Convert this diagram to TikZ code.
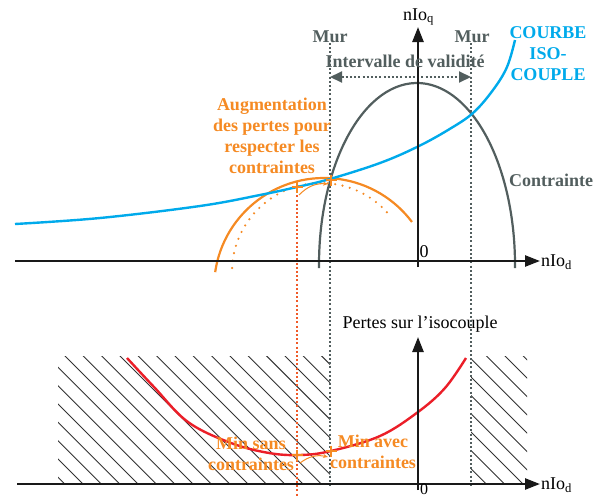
\documentclass[tikz,border=0pt]{standalone}
\usepackage{fontspec}
\setmainfont{Liberation Serif}
\usetikzlibrary{arrows.meta}
\definecolor{cblue}{RGB}{0,170,235}
\definecolor{cgray}{RGB}{82,94,94}
\definecolor{corange}{RGB}{245,138,35}
\definecolor{cred}{RGB}{235,30,40}
\definecolor{cdotred}{RGB}{240,90,40}
\tikzset{
  axis/.style={line width=2.4pt, black!90, -{Triangle[length=15pt,width=11pt]}},
  wall/.style={cgray, line width=2pt, dash pattern=on 2pt off 2.2pt},
  lbl/.style={font=\fontsize{18}{21}\selectfont\bfseries, align=center, inner sep=0pt},
  rlbl/.style={font=\fontsize{18}{21}\selectfont, inner sep=0pt},
  plusmark/.style={corange, line width=2.8pt},
  hatchline/.style={line width=0.9pt, black!80},
  smallarrow/.style={corange, line width=1pt, -{Stealth[length=5pt,width=4pt]}},
}
\begin{document}
\begin{tikzpicture}[x=1pt,y=-1pt]
\useasboundingbox (0,0) rectangle (600,498);
% hatching
\begin{scope}
  \clip (58,356) rectangle (330,484) (471,356) rectangle (527,484);
  \foreach \k in {-8,...,26} {
    \draw[hatchline] ({-291+18.33*\k+340},340) -- ({-291+18.33*\k+500},500);
  }
\end{scope}
% coordinates
\coordinate (murAt) at (330,43); \coordinate (murAb) at (330,486);
\coordinate (murBt) at (471,43); \coordinate (murBb) at (471,486);
\coordinate (redt) at (297,187); \coordinate (redb) at (297,498);
\coordinate (ia) at (330,77); \coordinate (ib) at (471,77);
\coordinate (hx1s) at (15,261); \coordinate (hx1e) at (540,261);
\coordinate (vy1s) at (418,267); \coordinate (vy1e) at (418,27);
\coordinate (hx2s) at (17,484); \coordinate (hx2e) at (540,484);
\coordinate (vy2s) at (418,490); \coordinate (vy2e) at (418,337);
\coordinate (p1) at (297,187); \coordinate (p2) at (331,180);
\coordinate (q1) at (297,455); \coordinate (q2) at (331,451);
\coordinate (a1s) at (299,195); \coordinate (a1e) at (328,184);
\coordinate (a2s) at (300,463); \coordinate (a2e) at (328,457);
% walls
\draw[wall] (murAt) -- (murAb);
\draw[wall] (murBt) -- (murBb);
\draw[cdotred, line width=2pt, dash pattern=on 2pt off 2.2pt] (redt) -- (redb);
\draw[wall, {Triangle[length=12pt,width=11pt]}-{Triangle[length=12pt,width=11pt]}] (ia) -- (ib);
% curves
\draw[cgray, line width=2.2pt] (417,265) ++(179:98 and 182) arc[start angle=179, end angle=361, x radius=98, y radius=182];
\draw[corange, line width=2.2pt] (324,288) ++(188.3:110) arc[start angle=188.3, end angle=323.1, radius=110];
\draw[corange, line width=2.4pt, dash pattern=on 0pt off 7.5pt, line cap=round] (321,272) ++(182.6:89) arc[start angle=182.6, end angle=321.4, radius=89];
\draw[cblue, line width=2.4pt] plot[smooth, tension=0.6] coordinates {(15,224) (100,218) (200,206) (260,195) (297,187) (330,179) (380,163) (417,147) (448,130) (473,113) (493,90) (507,67) (515,40)};
\draw[cred, line width=2.4pt] plot[smooth, tension=0.6] coordinates {(127,358) (154,387) (188,422) (231,443) (269,453) (300,455) (331,451) (380,436) (418,412) (445,388) (466,358)};
% axes
\draw[axis] (hx1s) -- (hx1e);
\draw[axis] (vy1s) -- (vy1e);
\draw[axis] (hx2s) -- (hx2e);
\draw[axis] (vy2s) -- (vy2e);
% markers
\foreach \p in {p1,p2,q1,q2} {
  \draw[plusmark] (\p) ++(-5.5,0) -- ++(11,0);
  \draw[plusmark] (\p) ++(0,-5.5) -- ++(0,11);
}
\draw[smallarrow] (a1s) to[bend left=25] (a1e);
\draw[smallarrow] (a2s) to[bend left=25] (a2e);
% labels
\node[lbl, text=cgray] (mur1) at (330,37) {Mur};
\node[lbl, text=cgray] (mur2) at (472,37) {Mur};
\node[lbl, text=cgray] (interv) at (405,61) {Intervalle de validité};
\node[lbl, text=cgray] (contr) at (551,180) {Contrainte};
\node[lbl, text=cblue] (iso) at (548,54) {COURBE\\ISO-\\COUPLE};
\node[lbl, text=corange] (aug) at (272,136) {Augmentation\\des pertes pour\\respecter les\\contraintes};
\node[lbl, text=corange] (minsans) at (251,454) {Min sans\\contraintes};
\node[lbl, text=corange] (minavec) at (373,452) {Min avec\\contraintes};
\node[rlbl] (pertes) at (420,324) {Pertes sur l’isocouple};
\node[rlbl] (zero1) at (424,252) {0};
\node[rlbl, font=\fontsize{16}{18}\selectfont] (zero2) at (424,489) {0};
\node[rlbl, anchor=west] (nq) at (403,17) {nIo\textsubscript{q}};
\node[rlbl, anchor=west] (nd1) at (541,262) {nIo\textsubscript{d}};
\node[rlbl, anchor=west] (nd2) at (541,485) {nIo\textsubscript{d}};
\end{tikzpicture}
\end{document}
